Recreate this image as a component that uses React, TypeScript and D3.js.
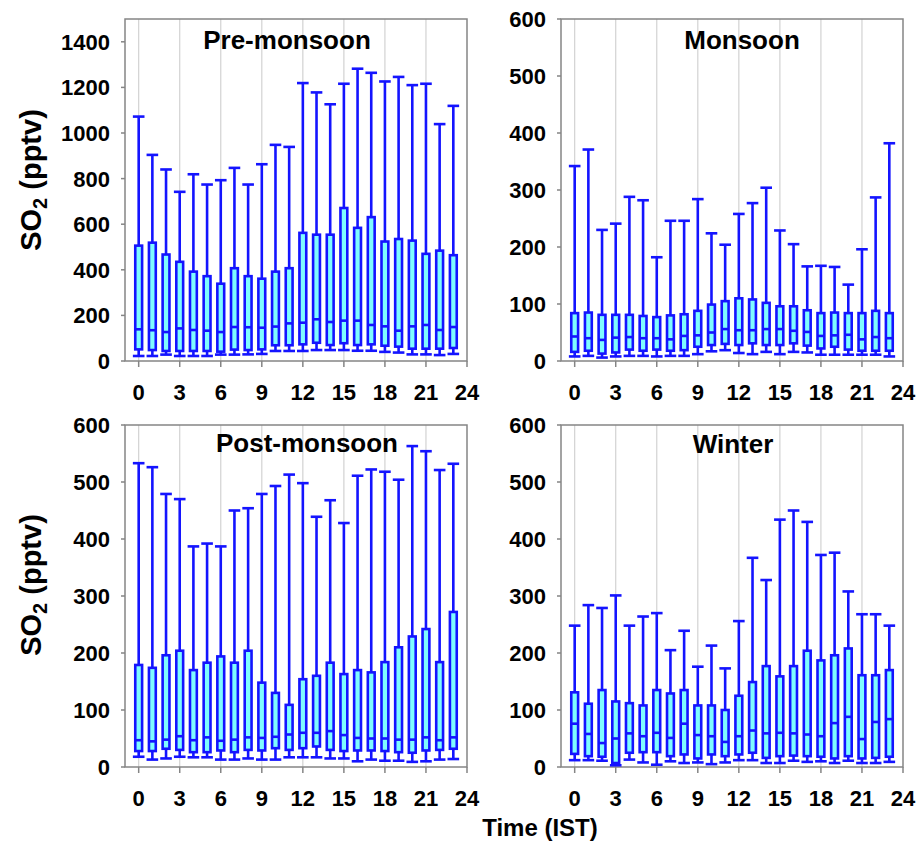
import React from "react";
import * as d3 from "d3";

// Hour of day (IST) for every box
const hours = d3.range(24);

// Pre-monsoon SO2 (pptv): whisker low, Q1, median, Q3, whisker high
const preLow = [22, 22, 28, 22, 22, 22, 28, 28, 29, 31, 44, 44, 44, 48, 48, 48, 45, 45, 40, 37, 29, 29, 26, 31];
const preQ1 = [51, 48, 44, 44, 44, 44, 41, 50, 48, 51, 69, 69, 73, 80, 70, 78, 70, 73, 67, 63, 54, 54, 54, 57];
const preMed = [139, 135, 127, 143, 136, 133, 127, 149, 148, 146, 151, 165, 168, 183, 171, 177, 177, 158, 152, 133, 152, 158, 136, 149];
const preQ3 = [506, 519, 467, 435, 392, 372, 339, 407, 372, 361, 392, 407, 562, 554, 554, 671, 584, 631, 524, 535, 528, 470, 484, 464];
const preHigh = [1072, 904, 840, 742, 819, 774, 793, 847, 774, 863, 948, 939, 1219, 1178, 1126, 1216, 1282, 1264, 1226, 1246, 1210, 1216, 1039, 1119];

// Monsoon
const monLow = [8, 9, 6, 8, 9, 9, 8, 9, 9, 12, 17, 19, 14, 12, 16, 12, 16, 15, 11, 11, 11, 11, 11, 8];
const monQ1 = [16, 18, 13, 15, 20, 18, 20, 18, 19, 25, 28, 30, 28, 31, 28, 28, 31, 27, 22, 25, 20, 18, 18, 18];
const monMed = [43, 40, 37, 41, 42, 40, 40, 38, 44, 45, 50, 56, 54, 54, 56, 56, 53, 51, 44, 45, 46, 38, 42, 40];
const monQ3 = [84, 85, 81, 81, 81, 79, 77, 80, 82, 88, 99, 105, 110, 108, 102, 96, 96, 89, 84, 85, 84, 84, 88, 84];
const monHigh = [342, 371, 230, 241, 288, 282, 182, 246, 246, 284, 224, 204, 258, 277, 304, 229, 205, 166, 167, 165, 134, 196, 287, 382];

// Post-monsoon
const postLow = [18, 13, 15, 18, 17, 17, 13, 13, 15, 13, 13, 17, 17, 17, 15, 15, 10, 13, 11, 11, 9, 10, 13, 14];
const postQ1 = [28, 28, 32, 30, 26, 26, 29, 26, 30, 29, 33, 30, 33, 36, 30, 28, 29, 29, 28, 26, 25, 29, 30, 32];
const postMed = [47, 45, 48, 54, 47, 52, 46, 48, 52, 51, 53, 57, 60, 60, 63, 56, 51, 50, 50, 48, 48, 52, 47, 52];
const postQ3 = [179, 174, 196, 204, 170, 183, 194, 183, 204, 148, 130, 109, 154, 160, 183, 163, 170, 166, 184, 210, 229, 242, 184, 272];
const postHigh = [533, 526, 479, 470, 387, 392, 387, 450, 454, 479, 493, 513, 498, 439, 468, 428, 511, 522, 518, 504, 563, 554, 521, 532];

// Winter
const winLow = [12, 12, 11, 3, 13, 8, 4, 10, 7, 8, 5, 8, 12, 12, 7, 7, 11, 9, 10, 7, 11, 7, 7, 9];
const winQ1 = [23, 19, 18, 7, 25, 26, 26, 19, 22, 15, 22, 19, 22, 25, 16, 19, 20, 19, 18, 15, 19, 15, 16, 18];
const winMed = [76, 58, 42, 50, 59, 54, 60, 51, 76, 56, 54, 44, 54, 64, 59, 60, 59, 57, 54, 77, 88, 49, 79, 84];
const winQ3 = [131, 111, 135, 115, 112, 108, 135, 129, 135, 108, 108, 100, 125, 149, 177, 159, 177, 204, 187, 196, 208, 161, 161, 170];
const winHigh = [248, 284, 279, 301, 248, 264, 270, 205, 239, 176, 213, 173, 256, 367, 328, 434, 450, 430, 372, 376, 308, 268, 268, 248];

// Axis ticks
const xTicks = [0, 3, 6, 9, 12, 15, 18, 21, 24];
const gridHours = [0, 3, 6, 9, 12, 15, 18, 21];
const preTicks = [0, 200, 400, 600, 800, 1000, 1200, 1400];
const otherTicks = [0, 100, 200, 300, 400, 500, 600];

type Panel = {
  title: string;
  low: number[];
  q1: number[];
  med: number[];
  q3: number[];
  high: number[];
  yMax: number;
  yTicks: number[];
  left: number;
  top: number;
  titleX: number;
  titleDy: number;
};

const W = 342;
const H = 342;

const panels: Panel[] = [
  { title: "Pre-monsoon", low: preLow, q1: preQ1, med: preMed, q3: preQ3, high: preHigh, yMax: 1500, yTicks: preTicks, left: 125, top: 19, titleX: 162, titleDy: 30 },
  { title: "Monsoon", low: monLow, q1: monQ1, med: monMed, q3: monQ3, high: monHigh, yMax: 600, yTicks: otherTicks, left: 561, top: 19, titleX: 181, titleDy: 30 },
  { title: "Post-monsoon", low: postLow, q1: postQ1, med: postMed, q3: postQ3, high: postHigh, yMax: 600, yTicks: otherTicks, left: 125, top: 425, titleX: 182, titleDy: 27 },
  { title: "Winter", low: winLow, q1: winQ1, med: winMed, q3: winQ3, high: winHigh, yMax: 600, yTicks: otherTicks, left: 561, top: 425, titleX: 172, titleDy: 28 },
];

const FONT = "'Liberation Sans', Arial, Helvetica, sans-serif";
const BLUE = "#1414ff";
const CYAN = "#7ffcff";
const FRAME = "#858585";

function BoxPanel({ p }: { p: Panel }) {
  const x = d3.scaleLinear().domain([-1, 24]).range([0, W]);
  const y = d3.scaleLinear().domain([0, p.yMax]).range([H, 0]);
  const unit = x(1) - x(0);
  const boxW = unit * 0.5;
  const capW = unit * 0.85;

  return (
    <g transform={`translate(${p.left},${p.top})`}>
      {gridHours.map((h) => (
        <line key={`g${h}`} x1={x(h)} x2={x(h)} y1={0} y2={H} stroke="#d2d2d2" strokeWidth={1.2} />
      ))}
      {/* frame */}
      <rect x={0} y={0} width={W} height={H} fill="none" stroke={FRAME} strokeWidth={1.5} />
      {/* y ticks */}
      {p.yTicks.map((t) => (
        <g key={`y${t}`}>
          <line x1={-4} x2={0} y1={y(t)} y2={y(t)} stroke={FRAME} strokeWidth={1.5} />
          <text x={-15} y={y(t)} dy="0.36em" textAnchor="end" fontFamily={FONT} fontWeight="bold" fontSize={22} fill="#000">
            {t}
          </text>
        </g>
      ))}
      {/* x ticks */}
      {xTicks.map((t) => (
        <g key={`x${t}`}>
          <line x1={x(t)} x2={x(t)} y1={H} y2={H + 6} stroke={FRAME} strokeWidth={1.5} />
          <text x={x(t)} y={H + 39} textAnchor="middle" fontFamily={FONT} fontWeight="bold" fontSize={22} fill="#000">
            {t}
          </text>
        </g>
      ))}
      {/* boxes */}
      {hours.map((h, i) => {
        const cx = x(h);
        return (
          <g key={`b${h}`} stroke={BLUE} strokeWidth={2.6} fill="none">
            <line x1={cx} x2={cx} y1={y(p.high[i])} y2={y(p.q3[i])} />
            <line x1={cx} x2={cx} y1={y(p.q1[i])} y2={y(p.low[i])} />
            <line x1={cx - capW / 2} x2={cx + capW / 2} y1={y(p.high[i])} y2={y(p.high[i])} />
            <line x1={cx - capW / 2} x2={cx + capW / 2} y1={y(p.low[i])} y2={y(p.low[i])} />
            <rect x={cx - boxW / 2} y={y(p.q3[i])} width={boxW} height={y(p.q1[i]) - y(p.q3[i])} fill={CYAN} />
            <line x1={cx - boxW / 2} x2={cx + boxW / 2} y1={y(p.med[i])} y2={y(p.med[i])} />
          </g>
        );
      })}
      <text x={p.titleX} y={p.titleDy} textAnchor="middle" fontFamily={FONT} fontWeight="bold" fontSize={26} fill="#000">
        {p.title}
      </text>
    </g>
  );
}

function YLabel({ cx, cy }: { cx: number; cy: number }) {
  return (
    <text
      transform={`translate(${cx},${cy}) rotate(-90)`}
      textAnchor="middle"
      fontFamily={FONT}
      fontWeight="bold"
      fontSize={29}
      fill="#000"
    >
      SO
      <tspan fontSize={20} dy={6}>2</tspan>
      <tspan dy={-6}> (pptv)</tspan>
    </text>
  );
}

export default function App() {
  return (
    <div style={{ position: "absolute", left: 0, top: 0 }}>
      <svg width={917} height={847} style={{ display: "block", background: "#fff" }}>
        {panels.map((p) => (
          <BoxPanel key={p.title} p={p} />
        ))}
        <YLabel cx={41} cy={180} />
        <YLabel cx={41} cy={585} />
        <text x={540} y={836} textAnchor="middle" fontFamily={FONT} fontWeight="bold" fontSize={24} fill="#000">
          Time (IST)
        </text>
      </svg>
    </div>
  );
}
